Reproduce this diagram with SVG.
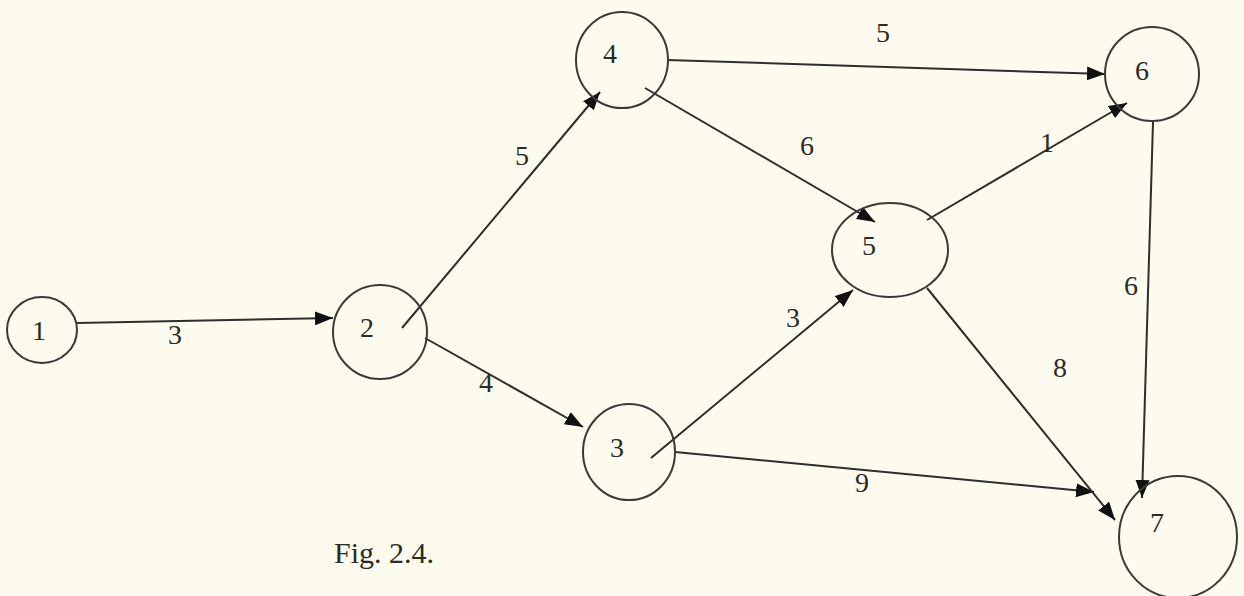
<svg xmlns="http://www.w3.org/2000/svg" width="1244" height="596" viewBox="0 0 1244 596">
<defs>
<style>
.node{fill:none;stroke:#3a3a36;stroke-width:2}
.edge{fill:none;stroke:#2e2e2a;stroke-width:2}
.lbl{font-family:"Liberation Serif","Times New Roman",serif;font-size:28px;fill:#2a2a26;text-anchor:middle;dominant-baseline:central}
</style>
<marker id="arr" markerUnits="userSpaceOnUse" markerWidth="18" markerHeight="14" viewBox="0 0 18 14" refX="18" refY="7" orient="auto">
<path d="M0,0 L18,7 L0,14 Z" fill="#111"/>
</marker>
</defs>
<rect width="1244" height="596" fill="#fcfbee"/>
<g id="connectors">
<line class="edge" x1="77" y1="323" x2="333" y2="318" marker-end="url(#arr)"/>
<line class="edge" x1="402" y1="328" x2="600" y2="92" marker-end="url(#arr)"/>
<line class="edge" x1="425" y1="338" x2="583" y2="427" marker-end="url(#arr)"/>
<line class="edge" x1="667" y1="60" x2="1105" y2="74" marker-end="url(#arr)"/>
<line class="edge" x1="645" y1="88" x2="875" y2="222" marker-end="url(#arr)"/>
<line class="edge" x1="651" y1="458" x2="853" y2="290" marker-end="url(#arr)"/>
<line class="edge" x1="675" y1="452" x2="1094" y2="492" marker-end="url(#arr)"/>
<line class="edge" x1="927" y1="220" x2="1127" y2="103" marker-end="url(#arr)"/>
<line class="edge" x1="927" y1="288" x2="1115" y2="520" marker-end="url(#arr)"/>
<line class="edge" x1="1153" y1="122" x2="1142" y2="498" marker-end="url(#arr)"/>
<text class="lbl" x="175" y="334">3</text>
<text class="lbl" x="522" y="155">5</text>
<text class="lbl" x="486" y="382">4</text>
<text class="lbl" x="883" y="32">5</text>
<text class="lbl" x="807" y="145">6</text>
<text class="lbl" x="793" y="317">3</text>
<text class="lbl" x="862" y="482">9</text>
<text class="lbl" x="1047" y="142">1</text>
<text class="lbl" x="1060" y="367">8</text>
<text class="lbl" x="1131" y="285">6</text>
</g>
<g id="node1"><ellipse class="node" cx="42" cy="330" rx="35" ry="33"/><text class="lbl" x="39" y="330">1</text></g>
<g id="node2"><ellipse class="node" cx="380" cy="332" rx="47" ry="47"/><text class="lbl" x="367" y="327">2</text></g>
<g id="node3"><ellipse class="node" cx="629" cy="452" rx="46" ry="48"/><text class="lbl" x="617" y="447">3</text></g>
<g id="node4"><ellipse class="node" cx="622" cy="60" rx="46" ry="48"/><text class="lbl" x="610" y="53">4</text></g>
<g id="node5"><ellipse class="node" cx="890" cy="250" rx="58" ry="47"/><text class="lbl" x="869" y="245">5</text></g>
<g id="node6"><ellipse class="node" cx="1152" cy="74" rx="47" ry="47"/><text class="lbl" x="1142" y="70">6</text></g>
<g id="node7"><ellipse class="node" cx="1178" cy="537" rx="59" ry="61"/><text class="lbl" x="1157" y="522">7</text></g>
<text id="caption" x="384" y="552" style="font-family:'Liberation Serif','Times New Roman',serif;font-size:30px;fill:#2a2a26;text-anchor:middle;dominant-baseline:central">Fig. 2.4.</text>
</svg>
